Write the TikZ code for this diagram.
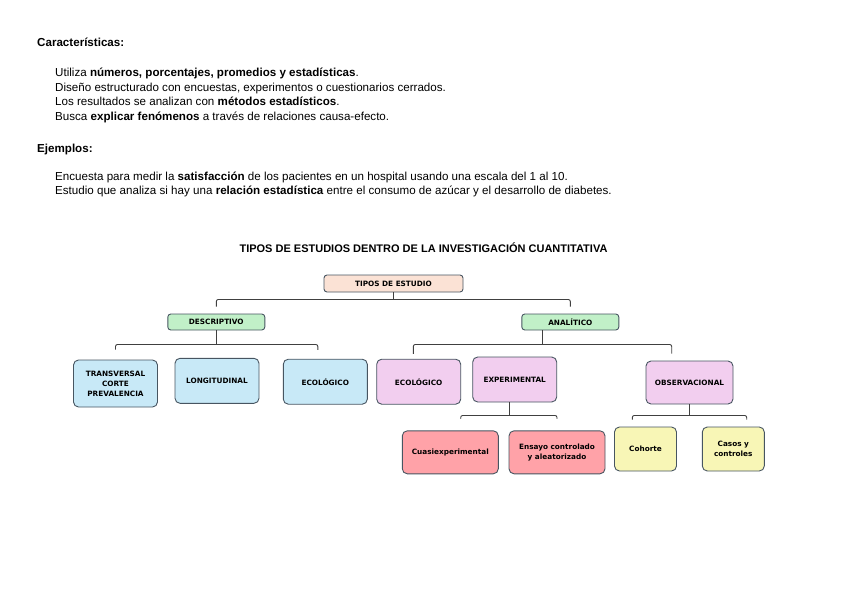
\documentclass[tikz,border=0pt]{standalone}
\usepackage{fontspec}
\setmainfont{Liberation Sans}
\newfontfamily\boxfamily{DejaVu Sans}
\usetikzlibrary{positioning, calc}

\definecolor{peach}{HTML}{FBE2D5}
\definecolor{mint}{HTML}{C1F0C8}
\definecolor{sky}{HTML}{C8E9F7}
\definecolor{lilac}{HTML}{F2CEEF}
\definecolor{salmon}{HTML}{FFA2A8}
\definecolor{lemon}{HTML}{F8F6B6}
\definecolor{edge}{HTML}{475561}

\begin{document}
\begin{tikzpicture}[
    x=1pt, y=-1pt,
    every node/.style={font=\fontsize{11.6}{13}\selectfont},
    box/.style={draw=edge, line width=0.9pt, rounded corners=5pt, align=center, inner sep=1pt,
      font=\boxfamily\bfseries\fontsize{7.3}{10}\selectfont},
    bracket/.style={draw=black!75, line width=0.9pt, rounded corners=2pt},
    bodyline/.style={anchor=base west, inner sep=0pt}
  ]
    \useasboundingbox (0,0) rectangle (848,599);

    % Texto superior
    \node[bodyline, font=\bfseries\fontsize{11.6}{13}\selectfont] (car) at (37,47) {Características:};
    \foreach \y/\txt [count=\i] in {
        77/{Utiliza \textbf{números, porcentajes, promedios y estadísticas}.},
        91.5/{Diseño estructurado con encuestas, experimentos o cuestionarios cerrados.},
        106/{Los resultados se analizan con \textbf{métodos estadísticos}.},
        120.5/{Busca \textbf{explicar fenómenos} a través de relaciones causa-efecto.}} {
      \node[bodyline] (c\i) at (55,\y) {\txt};
    }
    \node[bodyline, font=\bfseries\fontsize{11.6}{13}\selectfont] (ej) at (37,152) {Ejemplos:};
    \foreach \y/\txt [count=\i] in {
        180/{Encuesta para medir la \textbf{satisfacción} de los pacientes en un hospital usando una escala del 1 al 10.},
        194.5/{Estudio que analiza si hay una \textbf{relación estadística} entre el consumo de azúcar y el desarrollo de diabetes.}} {
      \node[bodyline] (e\i) at (55,\y) {\txt};
    }

    % Titulo
    \node[font=\bfseries\fontsize{11}{13}\selectfont] (titulo) at (423.5,248) {TIPOS DE ESTUDIOS DENTRO DE LA INVESTIGACIÓN CUANTITATIVA};

    % Nivel 1 y 2
    \node[box, fill=peach, rounded corners=3pt, minimum width=139pt, minimum height=17pt] (tipos) at (393.5,283.5) {TIPOS DE ESTUDIO};
    \node[box, fill=mint, rounded corners=3pt, minimum width=97pt, minimum height=16pt] (desc) at (216.3,322) {DESCRIPTIVO};
    \node[box, fill=mint, rounded corners=3pt, minimum width=97pt, minimum height=16pt] (anal) at (570.3,322) {ANALÍTICO};

    % Nivel 3
    \node[box, fill=sky, minimum width=84pt, minimum height=47pt] (trans) at (115.5,383.5) {TRANSVERSAL\\CORTE\\PREVALENCIA};
    \node[box, fill=sky, minimum width=84pt, minimum height=45pt] (longi) at (217,380.8) {LONGITUDINAL};
    \node[box, fill=sky, minimum width=84pt, minimum height=45pt] (ecod) at (325.3,381.7) {ECOLÓGICO};
    \node[box, fill=lilac, minimum width=84pt, minimum height=45pt] (ecoa) at (418.7,381.7) {ECOLÓGICO};
    \node[box, fill=lilac, minimum width=84pt, minimum height=45pt] (exper) at (514.7,379.5) {EXPERIMENTAL};
    \node[box, fill=lilac, minimum width=87pt, minimum height=43pt] (obs) at (689.5,382.5) {OBSERVACIONAL};

    % Nivel 4
    \node[box, fill=salmon, minimum width=96pt, minimum height=43pt] (cuasi) at (450.3,452.3) {Cuasiexperimental};
    \node[box, fill=salmon, minimum width=96pt, minimum height=43pt] (ensayo) at (557,452.3) {Ensayo controlado\\y aleatorizado};
    \node[box, fill=lemon, minimum width=62pt, minimum height=44pt] (cohorte) at (645.5,449) {Cohorte};
    \node[box, fill=lemon, minimum width=62pt, minimum height=44pt] (casos) at (733.3,449) {Casos y\\controles};

    % Llaves
    \draw[bracket] (tipos.south) -- ++(0,7) coordinate (tj);
    \draw[bracket] ([yshift=7pt]desc.north) |- (tj) -| ([yshift=7pt]anal.north);

    \draw[bracket] (desc.south) -- ++(0,14) coordinate (dj);
    \draw[bracket] ([yshift=10pt]trans.north) |- (dj) -| ([xshift=-7.5pt,yshift=9pt]ecod.north);

    \draw[bracket] ([xshift=-27.5pt]anal.south) -- ++(0,14) coordinate (aj);
    \draw[bracket] ([xshift=-5.4pt,yshift=5pt]ecoa.north) |- (aj) -| ([xshift=-17.8pt,yshift=7pt]obs.north);

    \draw[bracket] ([xshift=-5.7pt]exper.south) -- ++(0,13) coordinate (xj);
    \draw[bracket] ([xshift=10.4pt,yshift=11.5pt]cuasi.north) |- (xj) -| ([yshift=11.5pt]ensayo.north);

    \draw[bracket] (obs.south) -- ++(0,11) coordinate (oj);
    \draw[bracket] ([xshift=-13.2pt,yshift=7pt]cohorte.north) |- (oj) -| ([xshift=13.4pt,yshift=7pt]casos.north);

\end{tikzpicture}
\end{document}
